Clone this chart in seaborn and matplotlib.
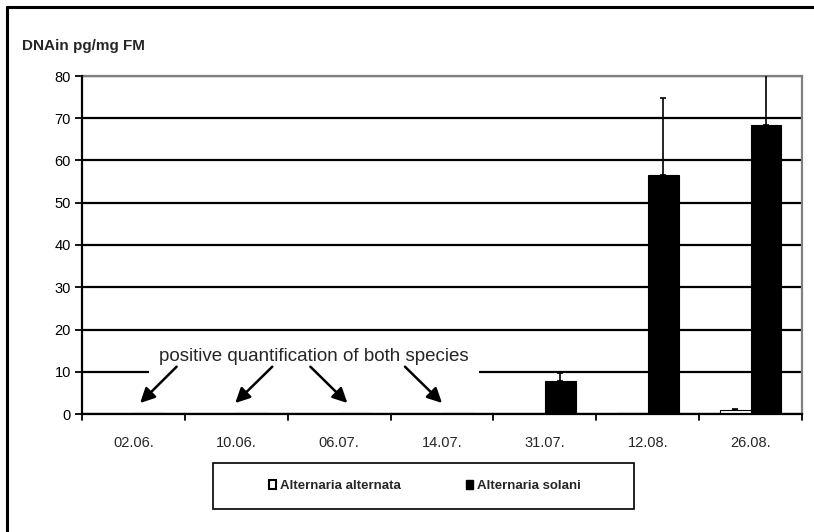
import numpy as np
import pandas as pd
import matplotlib
import matplotlib.pyplot as plt
import seaborn as sns
from matplotlib.lines import Line2D
from matplotlib.patches import Rectangle, Patch

matplotlib.use('agg')

dates = ['02.06.', '10.06.', '06.07.', '14.07.', '31.07.', '12.08.', '26.08.']
species = ['Alternaria alternata', 'Alternaria solani']
alternata = [0.1, 0.1, 0.1, 0.1, 0.1, 0.2, 0.9]
alternata_err = [0.0, 0.0, 0.0, 0.0, 0.0, 0.0, 0.4]
solani = [0.3, 0.3, 0.3, 0.3, 7.8, 56.5, 68.5]
solani_err = [0.0, 0.0, 0.0, 0.0, 1.9, 18.3, 15.0]

df = pd.DataFrame({
    'date': dates * 2,
    'species': [species[0]] * len(dates) + [species[1]] * len(dates),
    'value': alternata + solani,
})

sns.set_style('white')
plt.rcParams['font.family'] = ['Liberation Sans', 'DejaVu Sans']

fig = plt.figure(figsize=(8.14, 5.32), dpi=100)
ax = fig.add_axes([82 / 814, 1 - 414 / 532, 720 / 814, 338 / 532])

sns.barplot(data=df, x='date', y='value', hue='species', order=dates,
            hue_order=species, palette=['white', 'black'], edgecolor='black',
            linewidth=0.8, width=0.6, gap=0, errorbar=None, legend=False,
            zorder=3, ax=ax)

# error bars (plus direction only), placed on the bar centres
errs = alternata_err + solani_err
vals = alternata + solani
bars = [p for p in ax.patches if isinstance(p, Rectangle)][:len(vals)]
for bar, v, e in zip(bars, vals, errs):
    if e <= 0:
        continue
    cx = bar.get_x() + bar.get_width() / 2
    ax.errorbar(cx, v, yerr=[[0], [e]], fmt='none', ecolor='black',
                elinewidth=1.2, capsize=2, capthick=1.2, zorder=4)

ax.set_ylim(0, 80)
ax.set_xlim(-0.5, len(dates) - 0.5)
ax.set_yticks(np.arange(0, 81, 10))
ax.yaxis.grid(True, color='black', linewidth=1.6, zorder=0)
ax.set_axisbelow(True)
ax.set_xlabel('')
ax.set_ylabel('')

for s in ['top', 'right']:
    ax.spines[s].set_color('#808080')
    ax.spines[s].set_linewidth(1.6)
for s in ['left', 'bottom']:
    ax.spines[s].set_color('black')
    ax.spines[s].set_linewidth(1.6)
    ax.spines[s].set_zorder(5)

ax.tick_params(axis='y', left=True, length=5, width=1.3, labelsize=10.5,
               pad=3, colors='black')
ax.set_xticks(np.arange(len(dates)))
ax.set_xticklabels(dates)
ax.tick_params(axis='x', bottom=False, labelsize=10.5, pad=12)
for b in np.arange(len(dates) + 1) - 0.5:
    ax.plot([b, b], [0, -1.4], color='black', lw=1.3, clip_on=False, zorder=5)

ax.text(-0.083, 1.09, 'DNAin pg/mg FM', transform=ax.transAxes,
        fontsize=11, fontweight='bold', ha='left', va='center')

# annotation with arrows
ax.text(1.755, 13.6, 'positive quantification of both species', ha='center',
        va='center', fontsize=13.5, zorder=6,
        bbox=dict(facecolor='white', edgecolor='none', pad=7))
arrow_from = [(0.42, 11.2), (1.35, 11.2), (1.72, 11.2), (2.64, 11.2)]
arrow_to = [(0.065, 2.6), (0.99, 2.6), (2.08, 2.6), (3.0, 2.6)]
for (x0, y0), (x1, y1) in zip(arrow_from, arrow_to):
    ax.annotate('', xy=(x1, y1), xytext=(x0, y0), zorder=7,
                arrowprops=dict(arrowstyle='-|>', color='black', lw=1.8,
                                mutation_scale=22, shrinkA=0, shrinkB=0))

# legend
fig.patches.append(Rectangle((213 / 814, 1 - 509 / 532), 421 / 814, 46 / 532,
                             transform=fig.transFigure, facecolor='white',
                             edgecolor='black', linewidth=1.2))
handles = [Patch(facecolor='white', edgecolor='black', linewidth=1.5),
           Patch(facecolor='black', edgecolor='black')]
fig.legend(handles, species, loc='center', ncol=2, frameon=False,
           bbox_to_anchor=(425 / 814, 1 - 486 / 532),
           prop={'weight': 'bold', 'size': 9.5},
           handlelength=0.5, handleheight=0.7, handletextpad=0.3,
           columnspacing=5)

# outer frame (left and top only)
fig.add_artist(Line2D([6.5 / 814, 6.5 / 814], [0, 1 - 6.5 / 532],
                      transform=fig.transFigure, color='black', lw=2.2))
fig.add_artist(Line2D([6.5 / 814, 1], [1 - 6.5 / 532, 1 - 6.5 / 532],
                      transform=fig.transFigure, color='black', lw=2.2))

fig.savefig('out.png', dpi=100)
plt.close()
